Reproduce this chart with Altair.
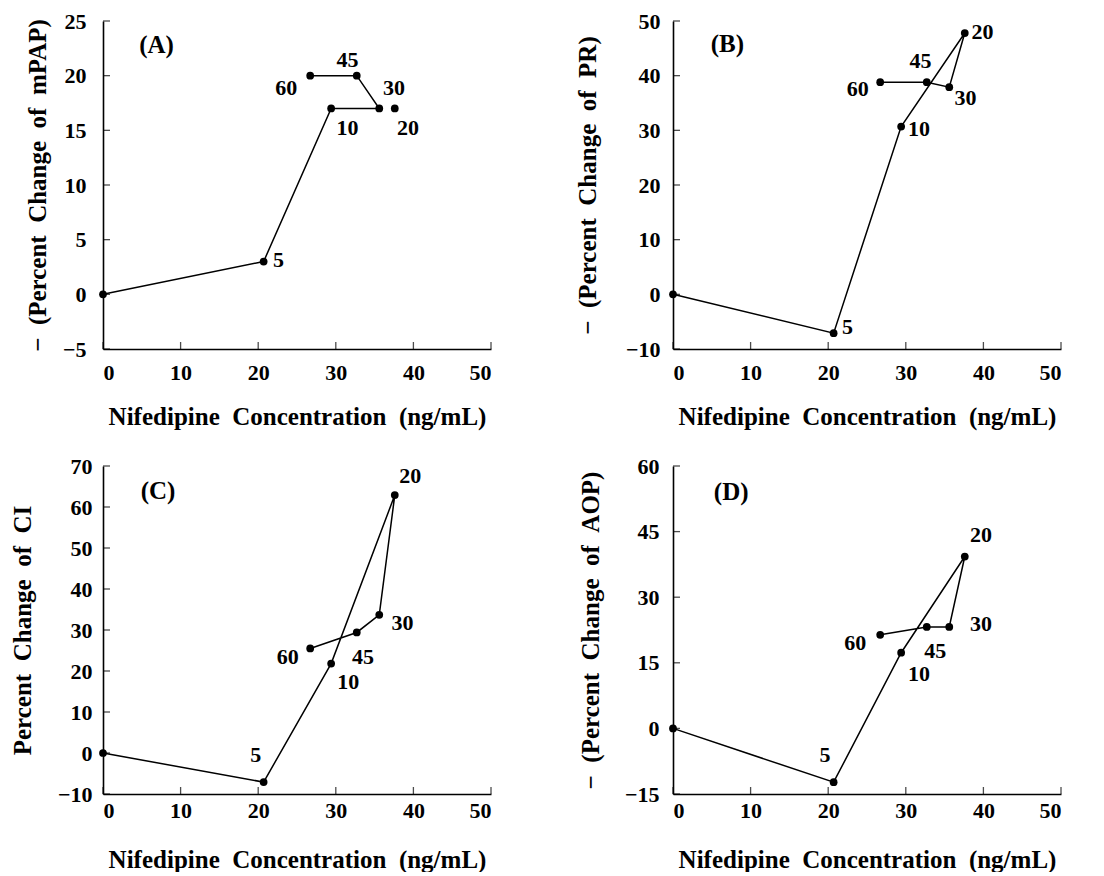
import altair as alt
import pandas as pd

# Sampling times (min) used as point labels; 0 is unlabeled
times = ["", "5", "10", "20", "30", "45", "60"]
# Nifedipine concentration (ng/mL) at each time
conc = [0, 20.7, 29.4, 37.6, 35.6, 32.7, 26.7]

# Panel values
a_vals = [0, 3.0, 17.0, 17.0, 17.0, 20.0, 20.0]
b_vals = [0, -7.1, 30.7, 47.8, 37.9, 38.8, 38.8]
c_vals = [0, -7.1, 21.8, 62.9, 33.7, 29.4, 25.5]
d_vals = [0, -12.3, 17.3, 39.3, 23.2, 23.2, 21.4]

# Whether each point is joined by the connecting line
a_join = [True, True, True, False, True, True, True]
all_join = [True] * 7

# Label anchor positions (data coords)
a_lab_x = [0, 22.6, 31.5, 39.3, 37.5, 31.5, 23.6]
a_lab_y = [0, 3.1, 15.2, 15.2, 18.9, 21.4, 18.85]
b_lab_x = [0, 22.5, 31.7, 39.9, 37.7, 31.9, 23.8]
b_lab_y = [0, -6.0, 30.2, 48.0, 36.0, 42.7, 37.5]
c_lab_x = [0, 19.7, 31.6, 39.6, 38.6, 33.5, 23.8]
c_lab_y = [0, -0.6, 17.4, 67.6, 31.6, 23.3, 23.3]
d_lab_x = [0, 19.6, 31.7, 39.7, 39.7, 33.8, 23.5]
d_lab_y = [0, -6.1, 12.5, 44.3, 23.9, 17.7, 19.5]

x_ticks = [0, 10, 20, 30, 40, 50]
a_ticks = [-5, 0, 5, 10, 15, 20, 25]
b_ticks = [-10, 0, 10, 20, 30, 40, 50]
c_ticks = [-10, 0, 10, 20, 30, 40, 50, 60, 70]
d_ticks = [-15, 0, 15, 30, 45, 60]

NB = "\u00a0"
sp = NB * 2
x_title = sp.join(["Nifedipine", "Concentration", "(ng/mL)"])
a_title = sp.join(["\u2212", "(Percent", "Change", "of", "mPAP)"])
b_title = sp.join(["\u2212", "(Percent", "Change", "of", "PR)"])
c_title = sp.join(["Percent", "Change", "of", "CI"])
d_title = sp.join(["\u2212", "(Percent", "Change", "of", "AOP)"])

letters = ["(A)", "(B)", "(C)", "(D)"]
letter_x = [6.9, 7.0, 7.1, 7.5]
letter_y = [22.8, 45.8, 63.9, 54.1]

FONT = "Liberation Serif"
W, H = 388, 328


def panel(vals, join, lx, ly, yticks, ytitle, letter, letx, lety,
          ylabpad, ytitlex, xlabpad, xtitley):
    df = pd.DataFrame({
        "order": list(range(len(conc))),
        "conc": conc,
        "val": vals,
        "join": join,
        "lab": times,
        "lx": lx,
        "ly": ly,
    })
    xs = alt.Scale(domain=[0, 50], nice=False, zero=False)
    ys = alt.Scale(domain=[yticks[0], yticks[-1]], nice=False, zero=False)
    xaxis = alt.Axis(values=x_ticks, title=x_title, ticks=False, grid=False,
                     labelFont=FONT, labelFontSize=22, labelFontWeight="bold",
                     labelColor="black", labelPadding=xlabpad, domainColor="black",
                     domainWidth=1.6, titleFont=FONT, titleFontSize=25,
                     titleFontWeight="bold", titleColor="black",
                     titleBaseline="alphabetic", titleY=xtitley)
    yaxis = alt.Axis(values=yticks, title=ytitle, ticks=False, grid=False,
                     labelFont=FONT, labelFontSize=22, labelFontWeight="bold",
                     labelColor="black", labelPadding=ylabpad, domainColor="black",
                     domainWidth=1.6, titleFont=FONT, titleFontSize=25,
                     titleFontWeight="bold", titleColor="black",
                     titleBaseline="middle", titleX=ytitlex)
    X = lambda f: alt.X(f, scale=xs, axis=xaxis)
    Y = lambda f: alt.Y(f, scale=ys, axis=yaxis)
    base = alt.Chart(df)
    line = base.transform_filter("datum.join").mark_line(
        color="black", strokeWidth=1.5).encode(
        x=X("conc:Q"), y=Y("val:Q"), order="order:Q")
    pts = base.mark_circle(color="black", opacity=1, size=60).encode(
        x=X("conc:Q"), y=Y("val:Q"))
    labs = base.transform_filter("datum.lab != ''").mark_text(
        font=FONT, fontSize=22, fontWeight="bold", color="black").encode(
        x=X("lx:Q"), y=Y("ly:Q"), text="lab:N")
    let = alt.Chart(pd.DataFrame({"t": [letter], "x": [letx], "y": [lety]})).mark_text(
        font=FONT, fontSize=25, fontWeight="bold", color="black").encode(
        x=X("x:Q"), y=Y("y:Q"), text="t:N")
    xt = alt.Chart(pd.DataFrame({"xt": x_ticks})).mark_tick(
        color="black", thickness=1.3, orient="vertical").encode(
        x=X("xt:Q"), y=alt.value(H - 3.5), size=alt.value(7))
    yt = alt.Chart(pd.DataFrame({"yt": yticks})).mark_tick(
        color="black", thickness=1.3, orient="horizontal").encode(
        y=Y("yt:Q"), x=alt.value(3.5), size=alt.value(7))
    return alt.layer(line, pts, labs, let, xt, yt).properties(width=W, height=H)


pa = panel(a_vals, a_join, a_lab_x, a_lab_y, a_ticks, a_title, letters[0],
           letter_x[0], letter_y[0], 17, -66, 13, 75)
pb = panel(b_vals, all_join, b_lab_x, b_lab_y, b_ticks, b_title, letters[1],
           letter_x[1], letter_y[1], 13, -86, 13, 75)
pc = panel(c_vals, all_join, c_lab_x, c_lab_y, c_ticks, c_title, letters[2],
           letter_x[2], letter_y[2], 11, -81, 6, 73)
pd_ = panel(d_vals, all_join, d_lab_x, d_lab_y, d_ticks, d_title, letters[3],
            letter_x[3], letter_y[3], 14, -83, 6, 73)

chart = alt.concat(
    pa, pb, pc, pd_, columns=2, bounds="flush",
    spacing={"row": 117, "column": 182},
).properties(padding={"left": 2, "top": 2, "right": 0, "bottom": 0}).configure_view(stroke=None)

chart.save("out.html", embed_options={"renderer": "svg", "actions": False})
